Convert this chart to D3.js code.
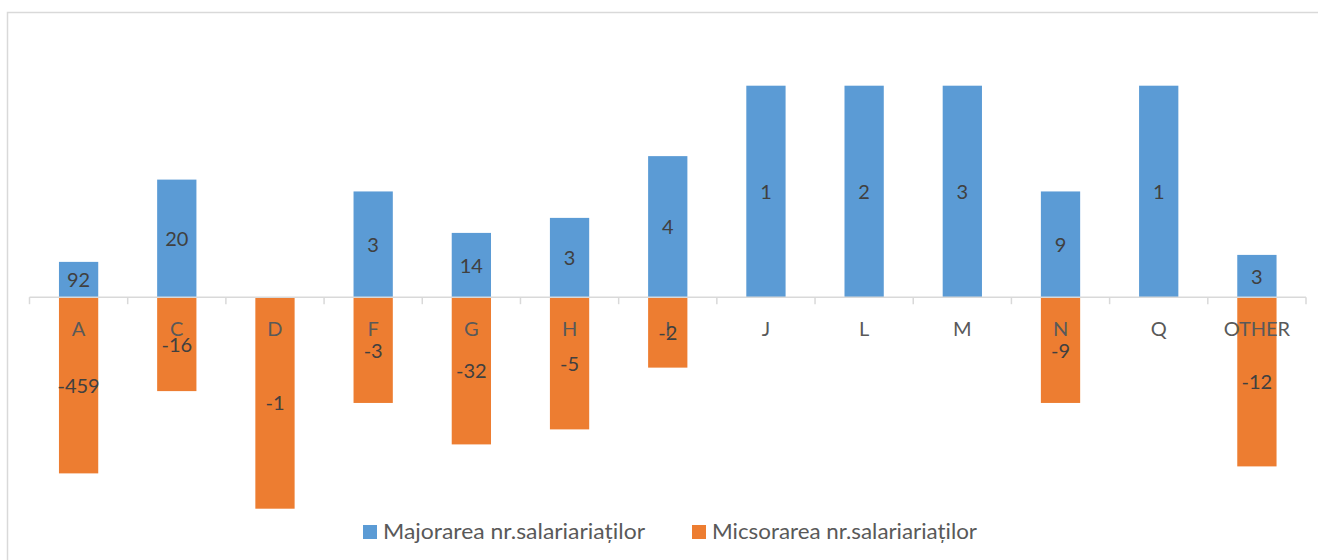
<!DOCTYPE html>
<html>
<head>
<meta charset="utf-8">
<script src="https://cdn.jsdelivr.net/npm/d3@7"></script>
<style>
  html, body { margin: 0; padding: 0; background: #ffffff; }
  svg { display: block; }
  text { font-family: Lato, "Open Sans", "Noto Sans", sans-serif; }
</style>
</head>
<body>
<svg id="chart" width="1318" height="560"></svg>
<script>
const categories = ["A", "C", "D", "F", "G", "H", "I", "J", "L", "M", "N", "Q", "OTHER"];
const increasePct = [16.7, 55.6, 0, 50, 30.4, 37.5, 66.7, 100, 100, 100, 50, 100, 20];
const decreasePct = [-83.3, -44.4, -100, -50, -69.6, -62.5, -33.3, 0, 0, 0, -50, 0, -80];
const increaseLabels = ["92", "20", "", "3", "14", "3", "4", "1", "2", "3", "9", "1", "3"];
const decreaseLabels = ["-459", "-16", "-1", "-3", "-32", "-5", "-2", "", "", "", "-9", "", "-12"];
const seriesNames = ["Majorarea nr.salariariaților", "Micsorarea nr.salariariaților"];
const seriesColors = ["#5B9BD5", "#ED7D31"];

const svg = d3.select("#chart");

// chart area border
svg.append("rect")
  .attr("x", 7.5).attr("y", 12.5)
  .attr("width", 1330).attr("height", 580)
  .attr("fill", "none").attr("stroke", "#D9D9D9").attr("stroke-width", 1.5);

const x = d3.scaleBand()
  .domain(categories)
  .range([29.5, 1306])
  .paddingInner(0.6)
  .paddingOuter(0.3);

const y = d3.scaleLinear()
  .domain([-100, 100])
  .range([508.7, 85.7]);

const rows = categories.map((c, i) => ({
  cat: c, up: increasePct[i], down: decreasePct[i],
  upLabel: increaseLabels[i], downLabel: decreaseLabels[i]
}));

const step = x.step();
const x0 = x.range()[0];
const y0 = y(0);

// bars
const gBars = svg.append("g");
gBars.selectAll("rect.up").data(rows.filter(d => d.up !== 0)).join("rect")
  .attr("class", "up")
  .attr("x", d => x(d.cat)).attr("width", x.bandwidth())
  .attr("y", d => y(d.up)).attr("height", d => y(0) - y(d.up))
  .attr("fill", seriesColors[0]);
gBars.selectAll("rect.down").data(rows.filter(d => d.down !== 0)).join("rect")
  .attr("class", "down")
  .attr("x", d => x(d.cat)).attr("width", x.bandwidth())
  .attr("y", y(0)).attr("height", d => y(d.down) - y(0))
  .attr("fill", seriesColors[1]);

// axis line and ticks
const gAxis = svg.append("g");
gAxis.append("line")
  .attr("x1", x0).attr("x2", x0 + step * categories.length)
  .attr("y1", y0).attr("y2", y0)
  .attr("stroke", "#D9D9D9").attr("stroke-width", 1.5);
gAxis.selectAll("line.tick").data(d3.range(categories.length + 1)).join("line")
  .attr("class", "tick")
  .attr("x1", i => x0 + i * step).attr("x2", i => x0 + i * step)
  .attr("y1", y0).attr("y2", y0 + 7)
  .attr("stroke", "#D9D9D9").attr("stroke-width", 1.5);

// category labels
gAxis.selectAll("text.cat").data(categories).join("text")
  .attr("class", "cat")
  .attr("x", d => x(d) + x.bandwidth() / 2)
  .attr("y", 336)
  .attr("text-anchor", "middle")
  .attr("font-size", 20)
  .attr("fill", "#595959")
  .text(d => d);

// data labels
const gLab = svg.append("g");
gLab.selectAll("text.up").data(rows.filter(d => d.upLabel !== "")).join("text")
  .attr("class", "up")
  .attr("x", d => x(d.cat) + x.bandwidth() / 2)
  .attr("y", d => (y(d.up) + y(0)) / 2 + 7.5)
  .attr("text-anchor", "middle")
  .attr("font-size", 20)
  .attr("fill", "#404040")
  .text(d => d.upLabel);
gLab.selectAll("text.down").data(rows.filter(d => d.downLabel !== "")).join("text")
  .attr("class", "down")
  .attr("x", d => x(d.cat) + x.bandwidth() / 2)
  .attr("y", d => (y(d.down) + y(0)) / 2 + 7.5)
  .attr("text-anchor", "middle")
  .attr("font-size", 20)
  .attr("fill", "#404040")
  .text(d => d.downLabel);

// legend
const legendX = [363, 692];
const legendTextLen = [262, 265];
const gLeg = svg.append("g");
seriesNames.forEach((name, i) => {
  gLeg.append("rect")
    .attr("x", legendX[i]).attr("y", 525)
    .attr("width", 14).attr("height", 14)
    .attr("fill", seriesColors[i]);
  gLeg.append("text")
    .attr("x", legendX[i] + 20).attr("y", 538.5)
    .attr("font-size", 20.5)
    .attr("textLength", legendTextLen[i])
    .attr("lengthAdjust", "spacingAndGlyphs")
    .attr("fill", "#595959")
    .text(name);
});
</script>
</body>
</html>
